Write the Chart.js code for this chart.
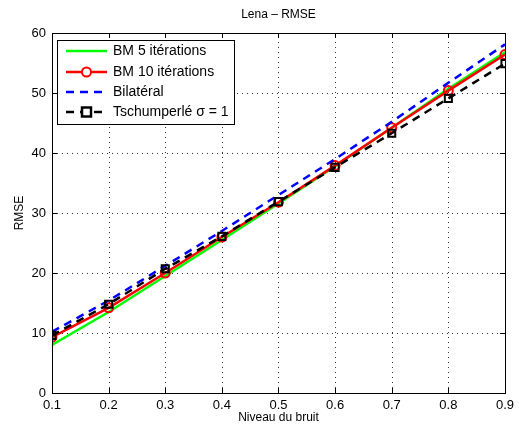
<!DOCTYPE html>
<html>
<head>
<meta charset="utf-8">
<script src="https://cdn.jsdelivr.net/npm/chart.js@4/dist/chart.umd.min.js"></script>
<style>
html,body{margin:0;padding:0;background:#fff;}
#wrap{width:519px;height:430px;position:relative;}
</style>
</head>
<body>
<div id="wrap"><canvas id="c" width="519" height="430"></canvas></div>
<script>
const noiseLevels = [0.1, 0.2, 0.3, 0.4, 0.5, 0.6, 0.7, 0.8, 0.9];
const bm5 = [8.0, 13.5, 19.5, 25.5, 31.6, 37.8, 44.2, 50.7, 56.8];
const bm10 = [9.3, 14.2, 20.0, 26.0, 31.8, 37.9, 44.2, 50.4, 56.4];
const bilateral = [10.2, 15.4, 21.2, 27.0, 33.0, 39.0, 45.2, 51.7, 58.1];
const tschumperle = [9.6, 14.8, 20.7, 26.1, 31.9, 37.6, 43.3, 49.1, 54.9];
const seriesNames = ['BM 5 itérations', 'BM 10 itérations', 'Bilatéral', 'Tschumperlé σ = 1'];
const titleText = 'Lena – RMSE';
const xTitle = 'Niveau du bruit';
const yTitle = 'RMSE';

const FONT = "'Liberation Sans', Arial, Helvetica, sans-serif";

function pts(arr){ return noiseLevels.map((x,i)=>({x:x,y:arr[i]})); }

const datasets = [
  {label: seriesNames[0], data: pts(bm5), borderColor:'#00ff00', backgroundColor:'#00ff00', borderWidth:2.5, pointRadius:0, order:4},
  {label: seriesNames[1], data: pts(bm10), borderColor:'#ff0000', backgroundColor:'rgba(0,0,0,0)', borderWidth:2.5, pointStyle:'circle', pointRadius:4.5, pointBorderWidth:2, pointBorderColor:'#ff0000', order:3},
  {label: seriesNames[2], data: pts(bilateral), borderColor:'#0000ff', backgroundColor:'#0000ff', borderWidth:2.5, borderDash:[8,6], pointRadius:0, order:2},
  {label: seriesNames[3], data: pts(tschumperle), borderColor:'#000000', backgroundColor:'#ffffff', borderWidth:2.5, borderDash:[8,6], pointStyle:'rect', pointRadius:5, pointBorderWidth:2, pointBorderColor:'#000', pointBackgroundColor:'rgba(255,255,255,0)', order:1}
];

const framePlugin = {
  id:'frame',
  beforeDatasetsDraw(chart){
    const ctx = chart.ctx, a = chart.chartArea;
    const xs = chart.scales.x, ys = chart.scales.y;
    ctx.save();
    ctx.strokeStyle = '#333'; ctx.lineWidth = 1; ctx.setLineDash([1,4]);
    ctx.beginPath();
    xs.ticks.forEach(t=>{
      const px = Math.round(xs.getPixelForValue(t.value))+0.5;
      ctx.moveTo(px, a.bottom); ctx.lineTo(px, a.top);
    });
    ys.ticks.forEach(t=>{
      const py = Math.round(ys.getPixelForValue(t.value))+0.5;
      ctx.moveTo(a.left, py); ctx.lineTo(a.right, py);
    });
    ctx.stroke();
    ctx.restore();
  },
  afterDraw(chart){
    const ctx = chart.ctx, a = chart.chartArea;
    const xs = chart.scales.x, ys = chart.scales.y;
    ctx.save();
    ctx.strokeStyle = '#000'; ctx.lineWidth = 1; ctx.setLineDash([]);
    ctx.strokeRect(Math.round(a.left)+0.5, Math.round(a.top)+0.5, Math.round(a.right-a.left), Math.round(a.bottom-a.top));
    const L = 5;
    ctx.beginPath();
    xs.ticks.forEach(t=>{
      const px = Math.round(xs.getPixelForValue(t.value))+0.5;
      ctx.moveTo(px, a.bottom); ctx.lineTo(px, a.bottom-L);
      ctx.moveTo(px, a.top); ctx.lineTo(px, a.top+L);
    });
    ys.ticks.forEach(t=>{
      const py = Math.round(ys.getPixelForValue(t.value))+0.5;
      ctx.moveTo(a.left, py); ctx.lineTo(a.left+L, py);
      ctx.moveTo(a.right, py); ctx.lineTo(a.right-L, py);
    });
    ctx.stroke();
    // title
    ctx.fillStyle = '#000';
    ctx.font = '12px ' + FONT;
    ctx.textAlign = 'center'; ctx.textBaseline = 'middle';
    ctx.fillText(titleText, (a.left+a.right)/2, 15);
    // legend
    const bx = 57.5, by = 40.5, bw = 177, bh = 84;
    ctx.fillStyle = '#fff';
    ctx.fillRect(bx, by, bw, bh);
    ctx.strokeStyle = '#000'; ctx.lineWidth = 1;
    ctx.strokeRect(bx, by, bw, bh);
    const rows = [51, 72, 92, 112];
    chart.data.datasets.forEach((ds, i)=>{
      const y = rows[i];
      ctx.save();
      ctx.strokeStyle = ds.borderColor; ctx.lineWidth = 2.5;
      ctx.setLineDash(ds.borderDash || []);
      ctx.beginPath(); ctx.moveTo(66, y); ctx.lineTo(107, y); ctx.stroke();
      ctx.setLineDash([]);
      if (ds.pointStyle === 'circle') {
        ctx.fillStyle = '#fff';
        ctx.beginPath(); ctx.arc(86.5, y, 4.5, 0, Math.PI*2); ctx.fill();
        ctx.lineWidth = 2; ctx.strokeStyle = ds.pointBorderColor; ctx.stroke();
      } else if (ds.pointStyle === 'rect') {
        ctx.fillStyle = '#fff';
        ctx.fillRect(81.5, y-5, 10, 10);
        ctx.lineWidth = 2.5; ctx.strokeStyle = '#000';
        ctx.strokeRect(82, y-4.5, 9, 9);
      }
      ctx.restore();
      ctx.fillStyle = '#000';
      ctx.font = '14px ' + FONT;
      ctx.textAlign = 'left'; ctx.textBaseline = 'middle';
      ctx.fillText(ds.label, 113, y);
    });
    ctx.restore();
  }
};

new Chart(document.getElementById('c'), {
  type:'line',
  data:{datasets:datasets},
  options:{
    responsive:false,
    animation:false,
    devicePixelRatio:1,
    layout:{padding:{left:0, right:9, top:33, bottom:0}},
    plugins:{legend:{display:false}, title:{display:false}, tooltip:{enabled:false}},
    elements:{line:{tension:0}},
    scales:{
      x:{
        type:'linear', min:0.1, max:0.9,
        ticks:{stepSize:0.1, color:'#000', font:{family:FONT, size:13}, padding:5,
          callback:(v)=>Number(v).toFixed(1)},
        grid:{display:false, drawTicks:false},
        border:{display:false},
        title:{display:true, text:xTitle, color:'#000', font:{family:FONT, size:12}, padding:{top:0,bottom:5}},
        afterFit(s){ s.height = 37; }
      },
      y:{
        min:0, max:60,
        ticks:{stepSize:10, color:'#000', font:{family:FONT, size:13}, padding:6},
        grid:{display:false, drawTicks:false},
        border:{display:false},
        title:{display:true, text:yTitle, color:'#000', font:{family:FONT, size:12}, padding:{top:12,bottom:0}},
        afterFit(s){ s.width = 52; }
      }
    }
  },
  plugins:[framePlugin]
});
</script>
</body>
</html>
